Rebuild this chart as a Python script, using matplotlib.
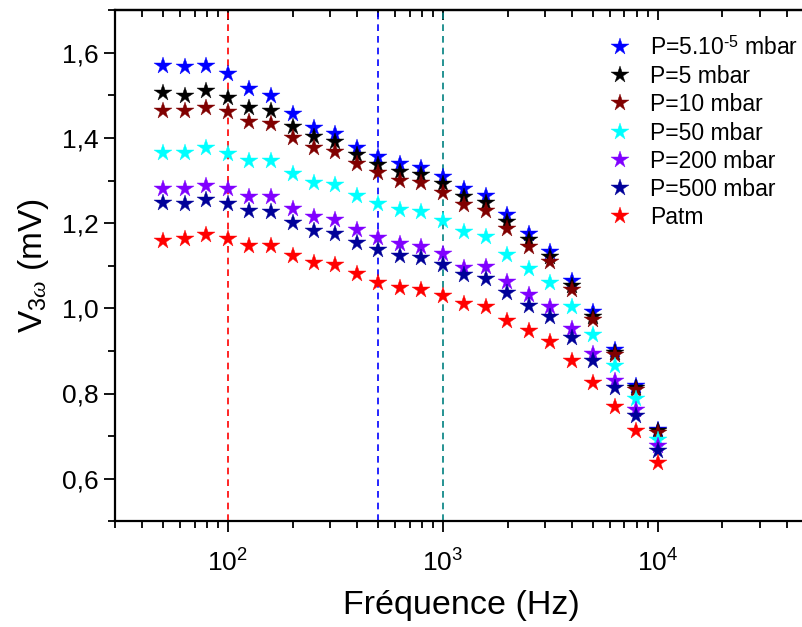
import matplotlib
matplotlib.use("Agg")
import matplotlib.pyplot as plt
from matplotlib.ticker import LogLocator, MultipleLocator, FuncFormatter, NullFormatter

plt.rcParams['font.family'] = ['Liberation Sans', 'DejaVu Sans']
plt.rcParams['mathtext.fontset'] = 'custom'
plt.rcParams['mathtext.rm'] = 'Liberation Sans'
plt.rcParams['mathtext.it'] = 'Liberation Serif:italic'

freq = [50, 63, 79, 100, 126, 158, 200, 251, 316, 398, 501, 631, 794, 1000,
        1259, 1585, 1995, 2512, 3162, 3981, 5012, 6310, 7943, 10000]

v_5e5 = [1.569, 1.566, 1.569, 1.550, 1.514, 1.499, 1.455, 1.423, 1.409, 1.376, 1.356, 1.338,
         1.330, 1.309, 1.279, 1.264, 1.218, 1.175, 1.133, 1.064, 0.991, 0.902, 0.818, 0.714]
v_5 = [1.505, 1.499, 1.510, 1.494, 1.471, 1.464, 1.426, 1.402, 1.390, 1.360, 1.337, 1.320,
       1.312, 1.291, 1.262, 1.248, 1.202, 1.160, 1.121, 1.052, 0.980, 0.896, 0.814, 0.713]
v_10 = [1.462, 1.462, 1.471, 1.460, 1.437, 1.433, 1.400, 1.377, 1.366, 1.339, 1.317, 1.300,
        1.293, 1.271, 1.242, 1.229, 1.185, 1.145, 1.109, 1.043, 0.973, 0.890, 0.808, 0.708]
v_50 = [1.364, 1.365, 1.376, 1.363, 1.346, 1.345, 1.315, 1.295, 1.289, 1.264, 1.245, 1.231,
        1.225, 1.206, 1.180, 1.167, 1.125, 1.092, 1.060, 1.002, 0.937, 0.865, 0.786, 0.692]
v_200 = [1.280, 1.280, 1.288, 1.279, 1.261, 1.261, 1.232, 1.214, 1.207, 1.184, 1.166, 1.150,
         1.145, 1.127, 1.094, 1.097, 1.061, 1.031, 1.004, 0.951, 0.893, 0.829, 0.761, 0.677]
v_500 = [1.247, 1.246, 1.254, 1.246, 1.228, 1.226, 1.201, 1.182, 1.175, 1.154, 1.138, 1.123,
         1.119, 1.102, 1.078, 1.069, 1.035, 1.005, 0.979, 0.930, 0.877, 0.812, 0.747, 0.666]
v_atm = [1.159, 1.163, 1.172, 1.163, 1.147, 1.146, 1.123, 1.107, 1.102, 1.080, 1.059, 1.047,
         1.043, 1.029, 1.010, 1.002, 0.971, 0.947, 0.922, 0.877, 0.825, 0.769, 0.713, 0.638]

labels = ['P=5.10$^{\u2010 5}$ mbar', 'P=5 mbar', 'P=10 mbar', 'P=50 mbar',
          'P=200 mbar', 'P=500 mbar', 'Patm']
series = [v_5e5, v_5, v_10, v_50, v_200, v_500, v_atm]
colors = ['#0000FF', '#000000', '#800000', '#00FFFF', '#8000FF', '#000099', '#FF0000']

vlines = [100, 500, 1000]
vline_colors = ['#FF0000', '#0000FF', '#008080']

fig = plt.figure(figsize=(8.03, 6.27), dpi=100)
ax = fig.add_axes([115.5 / 803, 1 - 521.3 / 627, (808 - 115.5) / 803, (521.3 - 10.1) / 627])

for xv, c in zip(vlines, vline_colors):
    ax.axvline(xv, color=c, linestyle=(0, (4, 3)), linewidth=1.2, zorder=1)

for y, lab, c in zip(series, labels, colors):
    ax.plot(freq, y, linestyle='none', marker='*', markersize=13, color=c,
            markeredgewidth=0.3, label=lab, zorder=3)

ax.set_xscale('log')
ax.set_xlim(30, 50000)
ax.set_ylim(0.5, 1.7)

ax.xaxis.set_major_locator(LogLocator(base=10, numticks=10))
ax.xaxis.set_minor_locator(LogLocator(base=10, subs=range(2, 10), numticks=20))
ax.yaxis.set_major_locator(MultipleLocator(0.2))
ax.yaxis.set_minor_locator(MultipleLocator(0.1))
ax.yaxis.set_major_formatter(FuncFormatter(lambda v, p: f"{v:.1f}".replace('.', ',')))

for s in ['left', 'bottom', 'top']:
    ax.spines[s].set_linewidth(1.6)
ax.spines['right'].set_visible(False)

ax.tick_params(axis='both', which='major', direction='out', length=8, width=1.3,
               labelsize=19, colors='black')
ax.tick_params(axis='both', which='minor', direction='out', length=5, width=1.3)
ax.tick_params(axis='x', which='major', pad=12)
ax.tick_params(axis='y', which='major', pad=4)

# top axis with inward ticks
top = ax.secondary_xaxis('top')
top.xaxis.set_major_locator(LogLocator(base=10, numticks=10))
top.xaxis.set_minor_locator(LogLocator(base=10, subs=range(2, 10), numticks=20))
top.xaxis.set_major_formatter(NullFormatter())
top.xaxis.set_minor_formatter(NullFormatter())
top.tick_params(axis='x', which='major', direction='in', length=7, width=1.3)
top.tick_params(axis='x', which='minor', direction='in', length=5, width=1.3)
top.spines['top'].set_linewidth(1.6)

ax.set_xlabel('Fréquence (Hz)', fontsize=24.5, labelpad=10)
ax.set_ylabel(r'V$_{3\omega}$ (mV)', fontsize=24, labelpad=8)

leg = ax.legend(loc='upper left', bbox_to_anchor=(609 / 803, 1 - 36 / 627),
                bbox_transform=fig.transFigure, frameon=False, fontsize=16.5,
                handlelength=1.0, handletextpad=0.8, labelspacing=0.23,
                borderpad=0, borderaxespad=0, markerscale=1.0)

fig.savefig('out.png', dpi=100)
